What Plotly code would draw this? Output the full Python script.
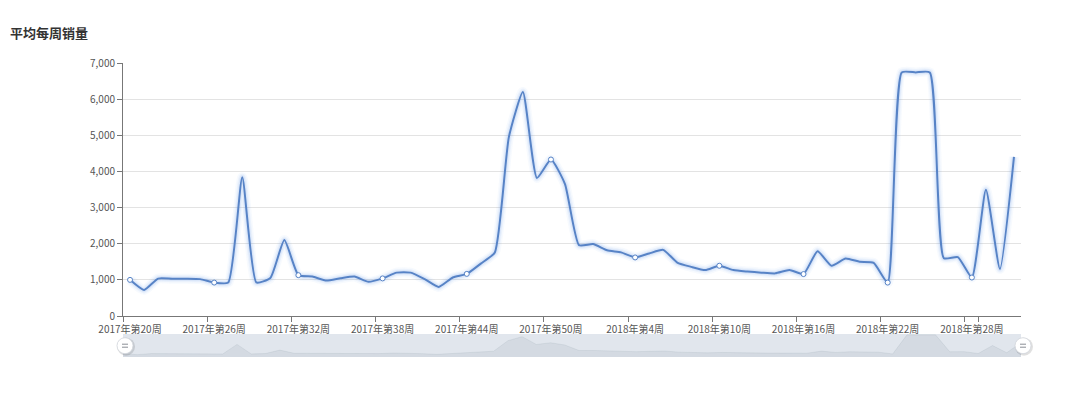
import plotly.graph_objects as go

title = "平均每周销量"

weeks_2017 = [f"2017年第{w}周" for w in range(20, 53)]
weeks_2018 = [f"2018年第{w}周" for w in range(1, 32)]
categories = weeks_2017 + weeks_2018

sales = [
    1000, 720, 1035, 1030, 1030, 1020, 925, 925, 3840, 930,
    1050, 2100, 1130, 1090, 980, 1045, 1090, 945, 1040, 1200,
    1200, 1020, 805, 1065, 1165, 1450, 1760, 4950, 6200, 3820,
    4330, 3650, 1960, 1990, 1820, 1760, 1620, 1730, 1830, 1480,
    1360, 1270, 1390, 1270, 1230, 1200, 1180, 1275, 1160, 1790,
    1390, 1590, 1500, 1470, 925, 6740, 6740, 6740, 1600, 1630,
    1065, 3490, 1300, 4400,
]

y_ticks = [0, 1000, 2000, 3000, 4000, 5000, 6000, 7000]
label_step = 6

LINE = "#5783c6"
FONT = "Noto Sans CJK SC, Noto Sans, sans-serif"
SMOOTH = 0.5

fig = go.Figure()

# glow under the line
for w, a in [(10, 0.05), (7, 0.08), (4.5, 0.12)]:
    fig.add_trace(go.Scatter(
        x=categories, y=sales, mode="lines",
        line=dict(color=f"rgba(100,150,230,{a})", width=w, shape="spline", smoothing=SMOOTH),
        hoverinfo="skip", showlegend=False,
    ))

fig.add_trace(go.Scatter(
    x=categories, y=sales, mode="lines",
    line=dict(color=LINE, width=2, shape="spline", smoothing=SMOOTH),
    showlegend=False,
))

mk_x = categories[::label_step]
mk_y = sales[::label_step]
fig.add_trace(go.Scatter(
    x=mk_x, y=mk_y, mode="markers",
    marker=dict(size=5, color="white", line=dict(color=LINE, width=1)),
    showlegend=False, hoverinfo="skip",
))

# mini chart in the slider
fig.add_trace(go.Scatter(
    x=list(range(len(sales))), y=sales, mode="lines",
    fill="tozeroy", fillcolor="rgba(47,69,84,0.07)",
    line=dict(color="rgba(47,69,84,0.12)", width=0.6),
    xaxis="x2", yaxis="y2", showlegend=False, hoverinfo="skip",
))

n = len(categories)
main_bottom = (357 - 316) / 294
slider_top = (357 - 334) / 294

fig.update_layout(
    width=1080, height=399,
    margin=dict(l=123, r=59, t=63, b=42),
    paper_bgcolor="white", plot_bgcolor="white",
    font=dict(family=FONT, size=10, color="#555"),
    title=dict(text=f"<b>{title}</b>", x=10 / 1080, xref="container", xanchor="left",
               y=1 - 33 / 399, yref="container", yanchor="middle",
               font=dict(size=13, color="#333", family=FONT)),
    xaxis=dict(
        type="category", range=[-0.5, n - 0.5],
        tickmode="array", tickvals=categories[::label_step],
        ticktext=categories[::label_step], tickangle=0,
        tickson="boundaries", ticks="outside", ticklen=5, tickcolor="#777",
        showline=True, linecolor="#777", linewidth=1, ticklabelstandoff=4,
        showgrid=False, tickfont=dict(size=10, color="#555"),
        anchor="y", domain=[0, 1],
    ),
    yaxis=dict(
        range=[0, 7000], tickvals=y_ticks, tickformat=",",
        ticks="outside", ticklen=5, tickcolor="#777",
        showline=True, linecolor="#777", linewidth=1,
        showgrid=True, gridcolor="#e3e3e3", gridwidth=1,
        zeroline=False, domain=[main_bottom, 1],
        tickfont=dict(size=10, color="#555"),
    ),
    xaxis2=dict(range=[0, n - 1], showticklabels=False, showgrid=False,
                zeroline=False, showline=False, anchor="y2", domain=[0, 1]),
    yaxis2=dict(range=[0, 7000], showticklabels=False, showgrid=False,
                zeroline=False, showline=False, domain=[0, slider_top], anchor="x2"),
    hovermode=False,
)

shapes = [
    dict(type="rect", xref="paper", yref="paper", x0=0, x1=1.0, y0=0, y1=slider_top,
         fillcolor="#e1e6ed", line=dict(width=0), layer="below"),
]
hy = (357 - 345.7) / 294
for hx in [2 / 898, 1 + 2 / 898]:
    shapes.append(dict(type="circle", xref="paper", yref="paper", xsizemode="pixel",
                       ysizemode="pixel", xanchor=hx, yanchor=hy,
                       x0=-8, x1=10, y0=-10, y1=8,
                       fillcolor="rgba(0,0,0,0.12)", line=dict(width=0)))
    shapes.append(dict(type="circle", xref="paper", yref="paper", xsizemode="pixel",
                       ysizemode="pixel", xanchor=hx, yanchor=hy,
                       x0=-8, x1=8, y0=-8, y1=8,
                       fillcolor="white", line=dict(color="#d0d4da", width=0.8)))
    for dy in (-1.5, 1.5):
        shapes.append(dict(type="line", xref="paper", yref="paper", xsizemode="pixel",
                           ysizemode="pixel", xanchor=hx, yanchor=hy,
                           x0=-3, x1=3, y0=dy, y1=dy,
                           line=dict(color="#8a8f96", width=1)))
fig.update_layout(shapes=shapes)

fig.write_html("out.html")
